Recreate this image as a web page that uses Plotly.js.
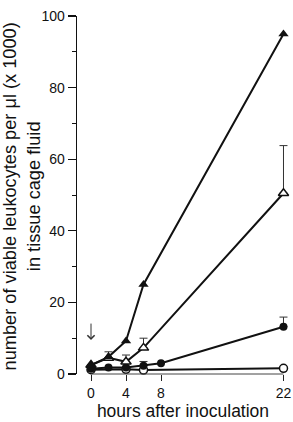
<!DOCTYPE html>
<html><head><meta charset="utf-8">
<script src="https://cdn.plot.ly/plotly-3.0.1.min.js"></script>
<style>html,body{margin:0;padding:0;background:#fff;}#chart{width:293px;height:422px;}</style>
</head><body><div id="chart"></div>
<script>
// data (hours after inoculation; viable leukocytes per µl x 1000)
var hoursFilledTri = [0, 2, 4, 6, 22];
var filledTri = [2.5, 4.8, 9.2, 25, 95];

var hoursOpenTri = [0, 2, 4, 6, 22];
var openTri = [2.5, 4.5, 3.4, 7.3, 50.5];
var openTriErr = [0, 1.7, 1.9, 2.7, 13.3];

var hoursFilledCirc = [0, 2, 4, 6, 8, 22];
var filledCirc = [1.5, 1.8, 1.8, 2.3, 3.0, 13.2];
var filledCircErr = [0, 0, 0, 1.2, 0, 2.7];

var hoursOpenCirc = [0, 4, 6, 22];
var openCirc = [1.2, 1.3, 1.1, 1.6];

var xTickVals = [0, 4, 8, 22];
var yTickVals = [0, 20, 40, 60, 80, 100];
var arrowHour = 0, arrowFrom = 14.5, arrowTo = 9.5;

var zeros = function(a){return a.map(function(){return 0;});};
var lineStyle = {color: '#111', width: 2};

var traces = [
  {x: hoursOpenCirc, y: openCirc, mode: 'lines+markers', line: lineStyle,
   marker: {symbol: 'circle', size: 8, color: '#fff', line: {color: '#111', width: 1.5}}, cliponaxis: false},
  {x: hoursFilledCirc, y: filledCirc, mode: 'lines+markers', line: lineStyle,
   marker: {symbol: 'circle', size: 8, color: '#111'}, cliponaxis: false,
   error_y: {type: 'data', symmetric: false, array: filledCircErr, arrayminus: zeros(filledCircErr), color: '#333', thickness: 1, width: 4}},
  {x: hoursOpenTri, y: openTri, mode: 'lines+markers', line: lineStyle,
   marker: {symbol: 'triangle-up', size: 9, color: '#fff', line: {color: '#111', width: 1.5}}, cliponaxis: false,
   error_y: {type: 'data', symmetric: false, array: openTriErr, arrayminus: zeros(openTriErr), color: '#333', thickness: 1, width: 4}},
  {x: hoursFilledTri, y: filledTri, mode: 'lines+markers', line: lineStyle,
   marker: {symbol: 'triangle-up', size: 9, color: '#111'}, cliponaxis: false}
];

var layout = {
  width: 293, height: 422,
  margin: {l: 77, r: 4, t: 16, b: 48},
  paper_bgcolor: '#fff', plot_bgcolor: '#fff',
  showlegend: false,
  font: {family: 'Liberation Sans, Arial, sans-serif', color: '#111'},
  xaxis: {range: [-1.6, 22.63], showgrid: false, zeroline: false, showline: false,
          tickmode: 'array', tickvals: xTickVals, ticks: 'outside', ticklen: 6, tickwidth: 1, tickcolor: '#222',
          tickfont: {size: 14, color: '#111'},
          title: {text: 'hours after inoculation', font: {size: 17.5, color: '#111'}, standoff: 4}},
  yaxis: {range: [0, 100], showgrid: false, zeroline: false, showline: true, linecolor: '#111', linewidth: 1.3,
          tickmode: 'array', tickvals: yTickVals, ticks: 'outside', ticklen: 8, tickwidth: 1.3, tickcolor: '#111',
          tickfont: {size: 14, color: '#111'},
          minor: {dtick: 10, ticks: 'outside', ticklen: 4, tickcolor: '#111', tickwidth: 1}},
  shapes: [
    {type: 'line', xref: 'x', yref: 'paper', x0: xTickVals[0], x1: xTickVals[xTickVals.length-1], y0: 0, y1: 0,
     line: {color: '#444', width: 1}}
  ],
  annotations: [
    {xref: 'paper', yref: 'paper', x: -0.258, y: 0.497, xanchor: 'center', yanchor: 'middle', textangle: -90,
     showarrow: false, text: 'number of viable leukocytes per μl (x 1000)<br>in tissue cage fluid',
     font: {size: 18.2, color: '#111'}},
    {x: arrowHour, y: arrowTo, ax: arrowHour, ay: arrowFrom, xref: 'x', yref: 'y', axref: 'x', ayref: 'y',
     showarrow: true, arrowhead: 4, arrowsize: 1.4, arrowwidth: 1, arrowcolor: '#333', text: ''}
  ]
};

Plotly.newPlot('chart', traces, layout, {displayModeBar: false, staticPlot: true});
</script></body></html>
